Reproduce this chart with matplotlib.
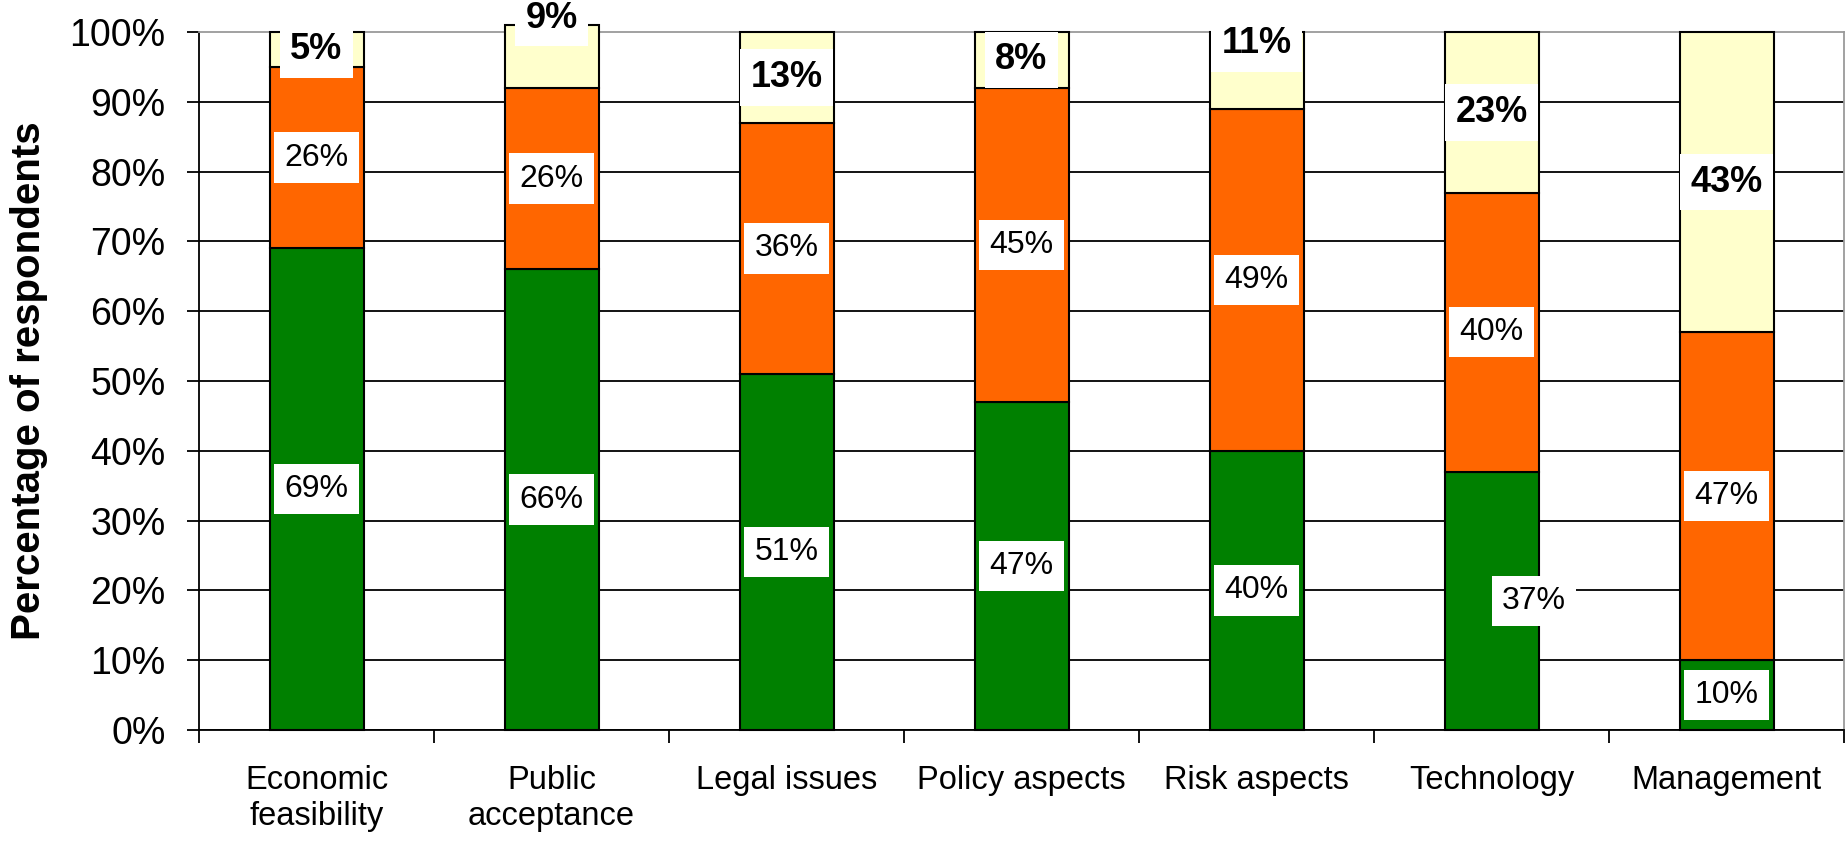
import matplotlib
matplotlib.use('Agg')
import matplotlib.pyplot as plt
from matplotlib import font_manager as fm
import numpy as np

# ---- data ----
categories = ['Economic\nfeasibility', 'Public\nacceptance', 'Legal issues',
              'Policy aspects', 'Risk aspects', 'Technology', 'Management']
green = [69, 66, 51, 47, 40, 37, 10]
orange = [26, 26, 36, 45, 49, 40, 47]
yellow = [5, 9, 13, 8, 11, 23, 43]
yticks = [0, 10, 20, 30, 40, 50, 60, 70, 80, 90, 100]
yticklabels = ['0%', '10%', '20%', '30%', '40%', '50%', '60%', '70%', '80%', '90%', '100%']

# label placement tweaks (layout only)
top_label_y = {1: 102.0, 4: 98.4}
green_label_dx = {5: 0.18}

# ---- fonts ----
available = {f.name for f in fm.fontManager.ttflist}
regular = 'Liberation Sans' if 'Liberation Sans' in available else 'DejaVu Sans'


def find_narrow(bold=False):
    for f in fm.fontManager.ttflist:
        if f.name in ('Liberation Sans Narrow', 'Arial Narrow') and f.style == 'normal':
            wb = f.weight in ('bold', 700) or (isinstance(f.weight, int) and f.weight >= 600)
            if wb == bold:
                return fm.FontProperties(fname=f.fname)
    return None


nar = find_narrow(False)
nar_b = find_narrow(True)
if nar is not None:
    lab_fp = nar.copy(); lab_fp.set_size(26)
    xt_fp = nar.copy(); xt_fp.set_size(26)
else:
    lab_fp = fm.FontProperties(family=regular, size=23)
    xt_fp = fm.FontProperties(family=regular, size=23.5)
if nar_b is not None:
    top_fp = nar_b.copy(); top_fp.set_size(29)
else:
    top_fp = fm.FontProperties(family=regular, weight='bold', size=26)

C_GREEN = '#008000'
C_ORANGE = '#FF6600'
C_YELLOW = '#FFFFCC'

fig = plt.figure(figsize=(18.46, 8.41), dpi=100)
ax = fig.add_axes([199 / 1846, 1 - 730 / 841, 1645 / 1846, (730 - 32) / 841])

x = np.arange(len(categories))
g = np.array(green)
o = np.array(orange)
yv = np.array(yellow)
w = 0.4
kw = dict(width=w, edgecolor='black', linewidth=1.5, zorder=3, clip_on=False)
ax.bar(x, g, color=C_GREEN, **kw)
ax.bar(x, o, bottom=g, color=C_ORANGE, **kw)
ax.bar(x, yv, bottom=g + o, color=C_YELLOW, **kw)

box = dict(boxstyle='square,pad=0.32', facecolor='white', edgecolor='none')
box_top = dict(boxstyle='square,pad=0.3', facecolor='white', edgecolor='none')
for i in range(len(categories)):
    ax.text(x[i] + green_label_dx.get(i, 0), g[i] / 2, f'{green[i]}%',
            ha='center', va='center', fontproperties=lab_fp,
            bbox=box, zorder=5, clip_on=False)
    ax.text(x[i], g[i] + o[i] / 2, f'{orange[i]}%',
            ha='center', va='center', fontproperties=lab_fp,
            bbox=box, zorder=5, clip_on=False)
    ax.text(x[i], top_label_y.get(i, g[i] + o[i] + yv[i] / 2), f'{yellow[i]}%',
            ha='center', va='center', fontproperties=top_fp,
            bbox=box_top, zorder=5, clip_on=False)

ax.set_xlim(-0.5, len(categories) - 0.5)
ax.set_ylim(0, 100)
ax.set_yticks(yticks)
ax.set_yticklabels(yticklabels, fontsize=27, family=regular)
ax.set_xticks(x)
ax.set_xticklabels(categories, fontproperties=xt_fp, linespacing=1.2)
ax.set_xticks(np.arange(len(categories) + 1) - 0.5, minor=True)
ax.tick_params(axis='x', which='major', length=0, pad=25)
ax.tick_params(axis='x', which='minor', length=9, width=1.3, direction='out')
ax.tick_params(axis='y', length=9, width=1.3, direction='out', pad=15)

ax.set_axisbelow(True)
ax.yaxis.grid(True, color='black', linewidth=1.3, zorder=0)
ax.get_ygridlines()[-1].set_visible(False)

for s in ['left', 'bottom']:
    ax.spines[s].set_color('black')
    ax.spines[s].set_linewidth(1.3)
for s in ['top', 'right']:
    ax.spines[s].set_color('#9a9a9a')
    ax.spines[s].set_linewidth(1.3)

ax.set_ylabel('Percentage of respondents', fontsize=29, fontweight='bold', family=regular)
ax.yaxis.set_label_coords(-0.092, 0.5)

fig.savefig('out.png', dpi=100)
